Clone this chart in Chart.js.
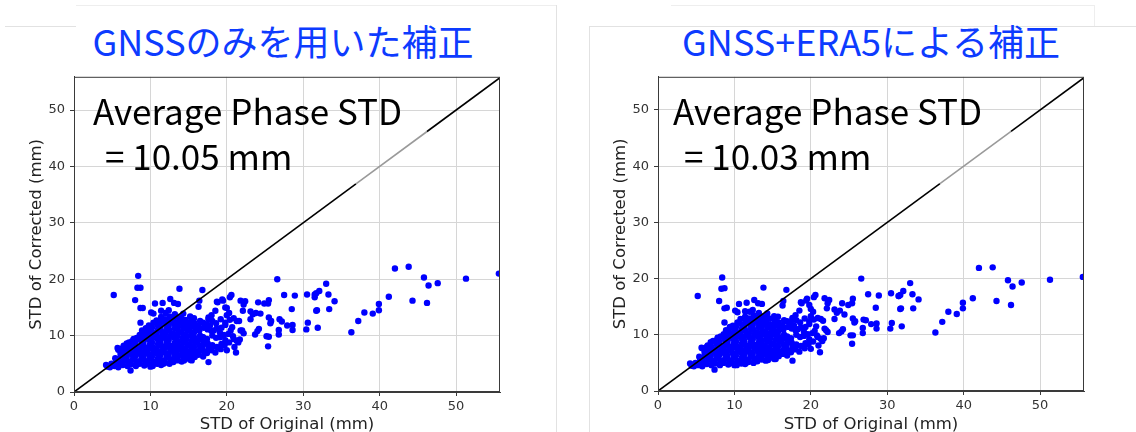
<!DOCTYPE html>
<html>
<head>
<meta charset="utf-8">
<script src="https://cdn.jsdelivr.net/npm/chart.js@4/dist/chart.umd.min.js"></script>
<style>
  body { margin: 0; background: #fff; width: 1136px; height: 432px; overflow: hidden; position: relative; }
  .title { position: absolute; top: 14px; font-family: "Noto Sans CJK JP", "Noto Sans", sans-serif; font-size: 36px; color: #0d3bff; white-space: nowrap; transform: translateX(-50%); }
  .rule { position: absolute; background: #e2e2e2; }
  canvas { position: absolute; }
</style>
</head>
<body>
<div class="rule" style="left:5px;top:26px;width:71px;height:1px"></div>
<div class="rule" style="left:76px;top:5px;width:480px;height:1px;background:#eee"></div>
<div class="rule" style="left:556px;top:5px;width:1px;height:427px"></div>
<div class="rule" style="left:671px;top:5px;width:423px;height:1px;background:#eee"></div>
<div class="rule" style="left:1094px;top:5px;width:1px;height:21px;background:#eee"></div>
<div class="rule" style="left:589px;top:26px;width:547px;height:1px"></div>
<div class="rule" style="left:589px;top:26px;width:1px;height:406px"></div>

<div class="title" style="left:283px">GNSSのみを用いた補正</div>
<div class="title" style="left:871px">GNSS+ERA5による補正</div>

<canvas id="chartGnss" width="486" height="368" style="left:24px;top:64px"></canvas>
<canvas id="chartEra5" width="486" height="368" style="left:608px;top:64px"></canvas>

<script>
// STD of original (mm) - same stations in both panels
var origX = [
  30.4, 30.6, 30.5, 31.5, 31.7, 31.5, 32.1, 33.0, 33.3, 34.1, 31.7, 31.8, 33.4, 31.9, 36.3,
  37.2, 38.0, 39.1, 39.9, 39.9, 41.2, 42.0, 43.8, 44.3, 45.8, 46.4, 46.2, 47.6, 51.3, 55.6,
  26.6, 27.5, 28.9, 28.5, 28.6, 28.6, 27.9, 26.9, 26.8, 26.8, 27.2, 25.5, 25.4, 24.9, 24.1,
  24.4, 25.5, 25.8, 25.7, 25.2, 25.5, 25.4, 24.2, 24.0, 23.7, 23.4, 23.8, 23.1, 23.1, 22.4,
  22.2, 22.1, 21.6, 22.0, 22.2, 21.7, 21.5, 21.2, 21.0, 20.6, 20.4, 19.8, 20.0, 17.6, 18.8, 19.5,
  16.8, 8.4, 8.3, 8.7, 5.2, 8.0, 8.7, 9.0, 13.8, 8.7, 7.4, 4.2, 4.4,
  10.6, 11.6, 12.6, 13.1, 13.6, 11.4, 12.0, 12.4, 10.4, 10.1, 16.4, 16.3, 18.7, 19.4,
  21.8, 20.0, 21.3, 21.8, 21.3, 20.0, 17.6, 17.8, 18.3, 19.1, 19.8, 20.5, 20.9,
  14.4, 15.4, 13.1, 11.7, 10.0, 10.9, 16.8, 17.4, 16.5, 19.1,
  5.7, 6.5, 6.1, 7.2, 7.8, 8.9, 9.1, 9.8,
  4.7, 4.9, 5.3, 5.5, 5.4,
  5.8, 6.0, 5.9, 6.1, 5.8,
  6.4, 6.6, 6.5, 6.7, 6.4,
  7.0, 7.1, 6.9, 7.1, 7.0, 6.9,
  7.5, 7.7, 7.6, 7.5, 7.7, 7.6,
  8.1, 8.2, 8.0, 8.2, 8.1, 8.0, 8.2,
  8.6, 8.8, 8.7, 8.6, 8.8, 8.7, 8.6,
  9.2, 9.3, 9.1, 9.3, 9.2, 9.1, 9.3, 9.2, 9.4,
  9.7, 9.9, 9.8, 9.7, 9.9, 9.8, 9.7, 9.9,
  10.3, 10.4, 10.2, 10.4, 10.3, 10.2, 10.4, 10.3, 10.2, 10.4,
  10.8, 11.0, 10.9, 10.8, 11.0, 10.9, 10.8, 11.0, 10.9, 10.8,
  11.4, 11.5, 11.3, 11.5, 11.4, 11.3, 11.5, 11.4, 11.3, 11.5, 11.4,
  11.9, 12.1, 12.0, 11.9, 12.1, 12.0, 11.9, 12.1, 12.0, 11.9,
  12.5, 12.6, 12.4, 12.6, 12.5, 12.4, 12.6, 12.5, 12.4, 12.6, 12.5,
  13.0, 13.2, 13.1, 13.0, 13.2, 13.1, 13.0, 13.2, 13.1, 13.0, 13.2,
  13.6, 13.7, 13.5, 13.7, 13.6, 13.5, 13.7, 13.6, 13.5, 13.7,
  14.1, 14.3, 14.2, 14.1, 14.3, 14.2, 14.1, 14.3, 14.2, 14.1, 14.3,
  14.7, 14.8, 14.6, 14.8, 14.7, 14.6, 14.8, 14.7, 14.6,
  15.2, 15.4, 15.3, 15.2, 15.4, 15.3, 15.2, 15.4, 15.3, 15.2,
  15.8, 15.9, 15.7, 15.9, 15.8, 15.7, 15.9, 15.8, 15.7,
  16.3, 16.5, 16.4, 16.3, 16.5, 16.4, 16.3, 16.5,
  16.9, 17.0, 16.8, 17.0, 16.9, 17.0, 16.9,
  17.4, 17.6, 17.5, 17.4, 17.5, 17.4, 17.6,
  18.0, 18.1, 18.1, 18.0, 18.1, 18.0,
  18.5, 18.7, 18.6, 18.7, 18.6, 18.5,
  19.2, 19.3, 19.1, 19.3, 19.2,
  19.7, 19.8, 19.6, 19.8,
  20.3, 20.2, 20.4, 20.3,
  20.8, 20.7, 20.9
];

// STD of corrected, GNSS only (mm)
var gnssY = [
  11.1, 12.3, 17.3, 17.3, 17.5, 16.8, 17.9, 19.2, 17.3, 16.1, 14.4, 14.5, 14.7, 11.4, 10.6,
  12.6, 14.1, 13.9, 15.6, 14.5, 16.9, 21.9, 22.2, 16.2, 20.3, 18.9, 15.8, 19.3, 20.1, 21.0,
  20.0, 17.2, 17.1, 14.7, 11.0, 11.9, 11.8, 12.9, 11.0, 10.2, 12.5, 16.3, 15.7, 15.7, 15.9,
  13.9, 13.2, 12.6, 12.2, 9.9, 9.8, 8.1, 11.2, 10.8, 10.2, 13.8, 14.0, 12.9, 14.3, 16.1,
  15.5, 14.4, 12.6, 10.9, 10.4, 9.3, 8.8, 7.0, 8.0, 17.2, 16.8, 15.0, 13.6, 5.3, 15.9, 16.2,
  18.1, 20.6, 18.5, 18.5, 17.2, 16.3, 14.9, 14.9, 18.3, 12.3, 3.8, 4.8, 4.5,
  15.7, 15.8, 16.5, 15.8, 15.6, 14.4, 14.0, 14.5, 13.9, 14.1, 16.2, 15.1, 16.0, 16.4,
  16.2, 14.9, 12.6, 10.9, 9.1, 7.4, 13.2, 11.8, 10.9, 9.7, 12.3, 10.9, 9.4,
  5.6, 5.6, 5.6, 5.0, 4.5, 5.0, 9.7, 8.5, 7.4, 7.9,
  7.8, 8.2, 7.1, 8.8, 9.4, 10.9, 10.0, 11.8,
  4.4, 5.0, 4.6, 5.3, 6.0,
  4.4, 5.1, 5.9, 6.7, 7.5,
  4.8, 5.6, 6.3, 7.0, 7.8,
  4.6, 5.4, 6.2, 7.1, 7.9, 8.6,
  4.9, 5.8, 6.6, 7.4, 8.2, 9.0,
  4.6, 5.4, 6.3, 7.1, 7.9, 8.8, 9.6,
  5.0, 5.8, 6.7, 7.5, 8.3, 9.2, 10.1,
  4.7, 5.5, 6.3, 7.2, 8.0, 8.9, 9.7, 10.6, 11.3,
  5.0, 5.9, 6.7, 7.6, 8.4, 9.3, 10.2, 11.0,
  4.6, 5.4, 6.3, 7.1, 8.0, 8.8, 9.7, 10.5, 11.4, 12.3,
  5.1, 6.0, 6.8, 7.7, 8.5, 9.4, 10.2, 11.1, 11.9, 12.7,
  4.8, 5.6, 6.5, 7.3, 8.2, 9.0, 9.9, 10.8, 11.6, 12.5, 13.3,
  5.2, 6.1, 6.9, 7.8, 8.6, 9.5, 10.3, 11.2, 12.1, 12.9,
  5.0, 5.8, 6.6, 7.5, 8.3, 9.2, 10.0, 10.9, 11.7, 12.6, 13.4,
  5.3, 6.2, 7.0, 7.9, 8.7, 9.6, 10.4, 11.3, 12.1, 13.0, 13.8,
  5.6, 6.5, 7.3, 8.2, 9.0, 9.9, 10.7, 11.6, 12.4, 13.3,
  5.4, 6.2, 7.1, 7.9, 8.8, 9.6, 10.5, 11.3, 12.2, 13.0, 13.9,
  6.0, 6.8, 7.7, 8.5, 9.4, 10.2, 11.1, 11.9, 12.8,
  5.7, 6.6, 7.4, 8.3, 9.1, 10.0, 10.8, 11.7, 12.5, 13.4,
  6.2, 7.1, 7.9, 8.8, 9.6, 10.5, 11.3, 12.2, 13.1,
  6.6, 7.5, 8.3, 9.2, 10.0, 10.9, 11.7, 12.6,
  6.3, 7.2, 8.0, 8.9, 9.7, 11.4, 12.3,
  6.9, 7.7, 8.6, 9.4, 11.1, 12.0, 12.9,
  7.4, 8.3, 10.0, 10.8, 12.6, 13.6,
  7.0, 8.0, 9.6, 11.3, 12.2, 14.4,
  7.6, 8.5, 10.5, 11.4, 12.9,
  8.3, 9.2, 10.1, 11.9,
  8.8, 10.3, 12.8, 14.0,
  9.9, 11.5, 13.1
];

// STD of corrected, GNSS + ERA5 (mm)
var era5Y = [
  11.1, 12.1, 17.4, 16.9, 17.1, 16.9, 17.8, 19.2, 17.2, 16.3, 14.6, 14.7, 14.7, 11.5, 10.4,
  12.3, 14.1, 13.7, 15.7, 14.7, 16.5, 21.9, 22.0, 16.0, 19.7, 18.6, 15.3, 19.3, 19.8, 20.3,
  20.0, 17.2, 17.0, 14.8, 11.1, 12.0, 11.9, 12.7, 11.2, 10.3, 12.6, 16.4, 15.6, 15.3, 15.6,
  13.6, 12.9, 12.4, 12.2, 9.9, 9.9, 8.4, 11.0, 10.6, 10.3, 13.9, 14.3, 12.8, 14.5, 16.2,
  15.6, 14.7, 12.5, 10.8, 10.5, 9.4, 8.9, 6.9, 8.1, 17.1, 16.7, 15.3, 13.3, 5.4, 15.6, 16.4,
  18.0, 20.2, 18.2, 18.3, 16.9, 16.0, 14.7, 14.8, 18.4, 12.2, 3.8, 4.9, 4.5,
  15.5, 15.7, 16.2, 15.6, 15.5, 14.2, 14.1, 14.4, 14.0, 14.3, 16.0, 15.2, 15.8, 16.1,
  16.5, 14.6, 12.8, 11.1, 9.3, 7.5, 13.0, 11.6, 11.0, 9.8, 12.4, 10.7, 9.6,
  5.5, 5.7, 5.8, 5.1, 4.6, 4.9, 9.6, 8.6, 7.3, 8.0,
  7.7, 8.1, 7.2, 8.9, 9.5, 10.8, 10.1, 11.6,
  4.4, 5.0, 4.6, 5.4, 6.1,
  4.4, 5.1, 5.9, 6.8, 7.6,
  4.8, 5.6, 6.3, 7.1, 7.9,
  4.6, 5.4, 6.2, 7.1, 7.9, 8.7,
  4.9, 5.8, 6.6, 7.4, 8.3, 9.0,
  4.6, 5.4, 6.3, 7.1, 8.0, 8.8, 9.7,
  5.0, 5.8, 6.7, 7.5, 8.3, 9.2, 10.1,
  4.7, 5.5, 6.3, 7.2, 8.0, 8.9, 9.8, 10.6, 11.4,
  5.0, 5.9, 6.7, 7.6, 8.4, 9.3, 10.2, 11.1,
  4.6, 5.4, 6.3, 7.1, 8.0, 8.8, 9.7, 10.5, 11.4, 12.2,
  5.1, 6.0, 6.8, 7.7, 8.5, 9.4, 10.2, 11.1, 11.9, 12.8,
  4.8, 5.6, 6.5, 7.3, 8.2, 9.0, 9.9, 10.8, 11.6, 12.5, 13.2,
  5.2, 6.1, 6.9, 7.8, 8.6, 9.5, 10.3, 11.2, 12.1, 12.9,
  5.0, 5.8, 6.6, 7.5, 8.3, 9.2, 10.0, 10.9, 11.7, 12.6, 13.5,
  5.3, 6.2, 7.0, 7.9, 8.7, 9.6, 10.4, 11.3, 12.1, 13.0, 13.9,
  5.6, 6.5, 7.3, 8.2, 9.0, 9.9, 10.7, 11.6, 12.4, 13.2,
  5.4, 6.2, 7.1, 7.9, 8.8, 9.6, 10.5, 11.3, 12.2, 13.0, 13.8,
  6.0, 6.8, 7.7, 8.5, 9.4, 10.2, 11.1, 11.9, 12.9,
  5.7, 6.6, 7.4, 8.3, 9.1, 10.0, 10.8, 11.7, 12.5, 13.3,
  6.2, 7.1, 7.9, 8.8, 9.6, 10.5, 11.3, 12.2, 13.2,
  6.6, 7.5, 8.3, 9.2, 10.0, 10.9, 11.7, 12.6,
  6.3, 7.2, 8.0, 8.9, 9.7, 11.4, 12.4,
  6.9, 7.7, 8.6, 9.4, 11.1, 12.0, 12.8,
  7.4, 8.3, 10.0, 10.8, 12.6, 13.5,
  7.0, 8.0, 9.6, 11.3, 12.2, 14.3,
  7.6, 8.5, 10.5, 11.4, 12.9,
  8.3, 9.2, 10.1, 11.9,
  8.8, 10.3, 12.7, 14.1,
  9.9, 11.5, 13.0
];

// 1:1 reference line (middle piece is greyed in the original slide)
var diagX = [0, 36.9, 46.2, 55.75];
var xTicks = [0, 10, 20, 30, 40, 50];
var yTicks = [0, 10, 20, 30, 40, 50];

var frame = {
  id: 'frame',
  afterDatasetsDraw: function(chart, args, opts) {
    var ctx = chart.ctx, a = chart.chartArea;
    ctx.save();
    ctx.strokeStyle = '#3a3a3a';
    ctx.lineWidth = 1;
    ctx.strokeRect(a.left + 0.5, a.top + 0.5, a.right - a.left - 1, a.bottom - a.top - 1);
    ctx.fillStyle = '#000';
    ctx.font = '35px "Noto Sans CJK JP", "Noto Sans", sans-serif';
    ctx.textBaseline = 'alphabetic';
    ctx.fillText('Average Phase STD', a.left + opts.dx1, a.top + 48);
    ctx.fillText(opts.line2, a.left + opts.dx2, a.top + 93);
    ctx.restore();
  }
};

function makeChart(id, yVals, line2, dx1, dx2, xAxisH) {
  var pts = origX.map(function(x, i) { return {x: x, y: yVals[i]}; });
  var diag = diagX.map(function(v) { return {x: v, y: v}; });
  return new Chart(document.getElementById(id), {
    type: 'scatter',
    data: {
      datasets: [
        {
          data: diag,
          showLine: true,
          borderColor: '#000',
          borderWidth: 1.6,
          pointRadius: 0,
          segment: {
            borderColor: function(c) { return c.p0DataIndex === 1 ? '#9a9a9a' : '#000'; }
          }
        },
        {
          data: pts,
          backgroundColor: '#0000ff',
          borderWidth: 0,
          pointRadius: 3.2
        }
      ]
    },
    options: {
      responsive: false,
      animation: false,
      devicePixelRatio: 1,
      layout: { padding: { top: 10, right: 10, left: 0, bottom: 0 } },
      plugins: {
        legend: { display: false },
        tooltip: { enabled: false },
        frame: { line2: line2, dx1: dx1, dx2: dx2 }
      },
      scales: {
        x: {
          type: 'linear', min: 0, max: 55.75,
          afterBuildTicks: function(s) { s.ticks = xTicks.map(function(v) { return {value: v}; }); },
          afterFit: function(s) { s.height = xAxisH; },
          ticks: { color: '#333', padding: 3, maxRotation: 0, font: { size: 13, family: 'DejaVu Sans' } },
          grid: { color: '#d6d6d6', tickLength: 4, tickColor: '#3a3a3a' },
          border: { color: '#3a3a3a' },
          title: { display: true, text: 'STD of Original (mm)', color: '#222', padding: { top: 0, bottom: -3 }, font: { size: 16.5, family: 'DejaVu Sans' } }
        },
        y: {
          type: 'linear', min: 0, max: 55.9,
          afterBuildTicks: function(s) { s.ticks = yTicks.map(function(v) { return {value: v}; }); },
          afterFit: function(s) { s.width = 50; },
          ticks: { color: '#333', padding: 5, font: { size: 13, family: 'DejaVu Sans' } },
          grid: { color: '#d6d6d6', tickLength: 4, tickColor: '#3a3a3a' },
          border: { color: '#3a3a3a' },
          title: { display: true, text: 'STD of Corrected (mm)', color: '#222', padding: { top: 2.5, bottom: 0 }, font: { size: 16.5, family: 'DejaVu Sans' } }
        }
      }
    },
    plugins: [frame]
  });
}

makeChart('chartGnss', gnssY, '= 10.05 mm', 19, 31, 40);
makeChart('chartEra5', era5Y, '= 10.03 mm', 15, 26, 41);
</script>
</body>
</html>
